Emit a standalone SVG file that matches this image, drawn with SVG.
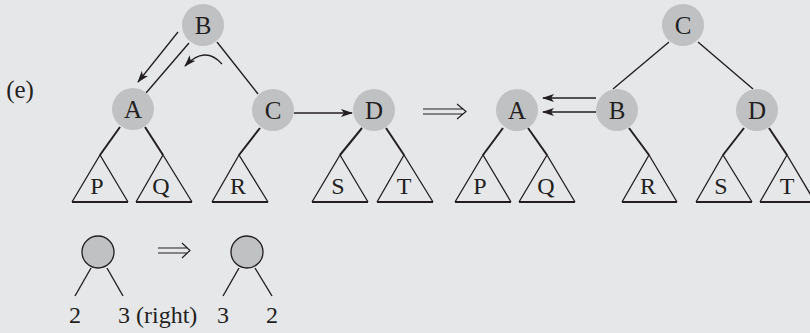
<svg xmlns="http://www.w3.org/2000/svg" width="810" height="333" viewBox="0 0 810 333">
<defs>
<style>
.bg{fill:#e6e7e9}
.node{fill:#c0c1c3}
.lbl{font-family:"Liberation Serif","Times New Roman",serif;font-size:25px;fill:#231f20;text-anchor:middle}
.sub{font-family:"Liberation Serif","Times New Roman",serif;font-size:24px;fill:#231f20;text-anchor:middle}
.bot{font-family:"Liberation Serif","Times New Roman",serif;font-size:24px;fill:#231f20;text-anchor:middle}
.edge{stroke:#231f20;stroke-width:1.4;fill:none}
.thick{stroke:#231f20;stroke-width:2;fill:none}
.tri{stroke:#231f20;stroke-width:1.3;fill:none;stroke-linejoin:miter}
.base{stroke:#231f20;stroke-width:2}
.arr{stroke:#231f20;stroke-width:1.3;fill:none}
.dbl{stroke:#231f20;stroke-width:1.2;fill:none}
.small{fill:#c0c1c3;stroke:#231f20;stroke-width:1.3}
</style>
<marker id="ah" viewBox="0 0 12 8" refX="11" refY="4" markerWidth="12" markerHeight="8" markerUnits="userSpaceOnUse" orient="auto">
<path d="M0,0 L12,4 L0,8 L3,4 Z" fill="#231f20"/>
</marker>
</defs>
<rect class="bg" x="0" y="0" width="810" height="333"/>
<text class="lbl" x="20" y="98">(e)</text>

<g id="connectors">
<line class="edge" x1="189" y1="43" x2="146" y2="93"/>
<line class="edge" x1="217" y1="42" x2="258" y2="94"/>
<line class="thick" x1="120" y1="127" x2="100" y2="155"/>
<line class="thick" x1="145" y1="127" x2="163" y2="155"/>
<line class="thick" x1="260" y1="128" x2="239" y2="155"/>
<line class="thick" x1="362" y1="128" x2="340" y2="155"/>
<line class="thick" x1="386" y1="128" x2="404" y2="155"/>
<line class="arr" x1="178" y1="32" x2="138" y2="82" marker-end="url(#ah)"/>
<path class="arr" d="M222,64 Q205,45 185,66" marker-end="url(#ah)"/>
<line class="arr" x1="294" y1="113" x2="352" y2="113" marker-end="url(#ah)"/>
<path class="dbl" d="M423,109 H463 M423,114 H463 M457,104 L466,111.5 L457,119"/>
<line class="edge" x1="669" y1="42" x2="613" y2="89"/>
<line class="edge" x1="698" y1="42" x2="753" y2="89"/>
<line class="thick" x1="503" y1="128" x2="483" y2="155"/>
<line class="thick" x1="528" y1="128" x2="547" y2="155"/>
<line class="thick" x1="629" y1="128" x2="649" y2="155"/>
<line class="thick" x1="744" y1="128" x2="723" y2="155"/>
<line class="thick" x1="769" y1="128" x2="787" y2="155"/>
<line class="arr" x1="596" y1="98" x2="543" y2="98" marker-end="url(#ah)"/>
<line class="arr" x1="596" y1="112" x2="543" y2="112" marker-end="url(#ah)"/>
<line class="edge" x1="91" y1="268" x2="75" y2="296"/>
<line class="edge" x1="107" y1="268" x2="123" y2="296"/>
<line class="edge" x1="239" y1="268" x2="223" y2="296"/>
<line class="edge" x1="255" y1="268" x2="272" y2="296"/>
<path class="dbl" d="M158,248 H187 M158,253 H187 M182,243 L190,250.5 L182,258"/>
</g>

<g id="nodeB"><circle class="node" cx="203" cy="25" r="21"/><text class="lbl" x="203" y="34">B</text></g>
<g id="nodeA"><circle class="node" cx="133" cy="109" r="21"/><text class="lbl" x="133" y="118">A</text></g>
<g id="nodeC"><circle class="node" cx="273" cy="110" r="21"/><text class="lbl" x="273" y="119">C</text></g>
<g id="nodeD"><circle class="node" cx="374" cy="110" r="21"/><text class="lbl" x="374" y="119">D</text></g>

<g id="triP"><path class="tri" d="M72,202 L100,155 L128,202"/><line class="base" x1="72" y1="202" x2="128" y2="202"/><text class="sub" x="97" y="194">P</text></g>
<g id="triQ"><path class="tri" d="M136,202 L163,155 L192,202"/><line class="base" x1="136" y1="202" x2="192" y2="202"/><text class="sub" x="161" y="194">Q</text></g>
<g id="triR"><path class="tri" d="M212,202 L239,155 L268,202"/><line class="base" x1="212" y1="202" x2="268" y2="202"/><text class="sub" x="238" y="194">R</text></g>
<g id="triS"><path class="tri" d="M312,202 L340,155 L368,202"/><line class="base" x1="312" y1="202" x2="368" y2="202"/><text class="sub" x="338" y="194">S</text></g>
<g id="triT"><path class="tri" d="M377,202 L404,155 L433,202"/><line class="base" x1="377" y1="202" x2="433" y2="202"/><text class="sub" x="404" y="194">T</text></g>

<g id="nodeC2"><circle class="node" cx="683" cy="25" r="21"/><text class="lbl" x="683" y="34">C</text></g>
<g id="nodeA2"><circle class="node" cx="517" cy="110" r="21"/><text class="lbl" x="517" y="119">A</text></g>
<g id="nodeB2"><circle class="node" cx="617" cy="110" r="21"/><text class="lbl" x="617" y="119">B</text></g>
<g id="nodeD2"><circle class="node" cx="757" cy="110" r="21"/><text class="lbl" x="757" y="119">D</text></g>

<g id="triP2"><path class="tri" d="M455,202 L483,155 L511,202"/><line class="base" x1="455" y1="202" x2="511" y2="202"/><text class="sub" x="480" y="194">P</text></g>
<g id="triQ2"><path class="tri" d="M519,202 L547,155 L575,202"/><line class="base" x1="519" y1="202" x2="575" y2="202"/><text class="sub" x="546" y="194">Q</text></g>
<g id="triR2"><path class="tri" d="M622,202 L649,155 L677,202"/><line class="base" x1="622" y1="202" x2="677" y2="202"/><text class="sub" x="648" y="194">R</text></g>
<g id="triS2"><path class="tri" d="M696,202 L723,155 L752,202"/><line class="base" x1="696" y1="202" x2="752" y2="202"/><text class="sub" x="721" y="194">S</text></g>
<g id="triT2"><path class="tri" d="M760,202 L787,155 L815,202"/><line class="base" x1="760" y1="202" x2="815" y2="202"/><text class="sub" x="787" y="194">T</text></g>

<g id="small1"><circle class="small" cx="98" cy="252" r="16"/></g>
<g id="small2"><circle class="small" cx="247" cy="252" r="16"/></g>
<text class="bot" x="75" y="323">2</text>
<text class="bot" x="118" y="323" style="text-anchor:start">3 (right)</text>
<text class="bot" x="223" y="323">3</text>
<text class="bot" x="272" y="323">2</text>
</svg>
